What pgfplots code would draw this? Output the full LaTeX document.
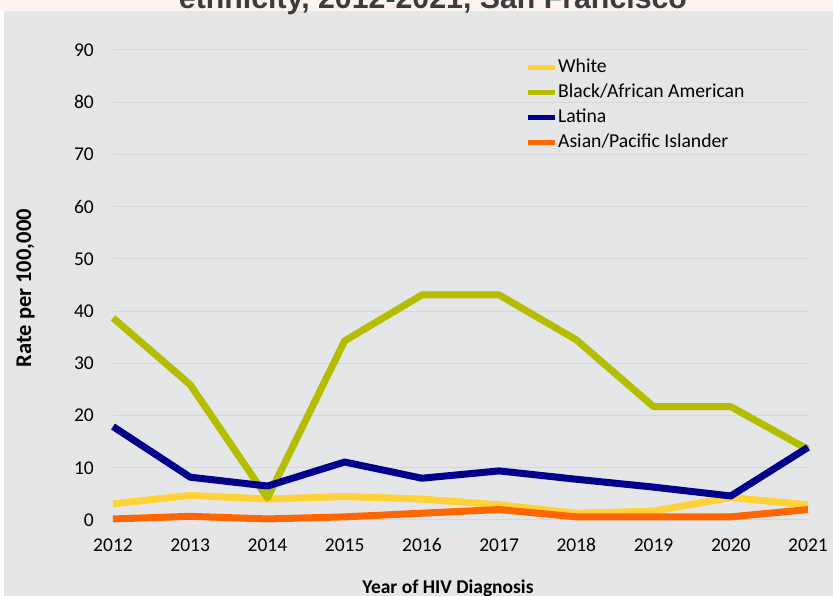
\documentclass[border=0pt]{standalone}
\usepackage{fontspec}
\setmainfont{Carlito}
\newfontfamily\titlefont{Liberation Sans}
\usepackage{pgfplots}
\pgfplotsset{compat=1.18}
\definecolor{bg}{RGB}{229,230,232}
\definecolor{pinkbg}{RGB}{253,244,242}
\definecolor{titlegray}{RGB}{60,60,60}
\definecolor{gridc}{RGB}{214,215,217}
\definecolor{cwhite}{RGB}{255,210,55}
\definecolor{cblack}{RGB}{181,189,0}
\definecolor{clatina}{RGB}{0,0,140}
\definecolor{casian}{RGB}{255,102,0}
\begin{document}
\begin{tikzpicture}[x=1pt,y=1pt]
\useasboundingbox (0,0) rectangle (833,596);
\clip (0,0) rectangle (833,596);
\fill[white] (0,0) rectangle (833,596);
\fill[pinkbg] (0,585) rectangle (833,596);
\fill[bg] (4,0) rectangle (833,585);
\node[anchor=base, inner sep=0pt, font=\titlefont\bfseries\fontsize{30.3}{32}\selectfont, text=titlegray] at (433,587) {ethnicity, 2012-2021, San Francisco};
\begin{axis}[
  at={(113pt,76pt)}, anchor=south west,
  scale only axis, width=695pt, height=470pt,
  xmin=2012, xmax=2021, ymin=0, ymax=90,
  xtick={2012,2013,...,2021}, ytick={0,10,...,90},
  axis line style={draw=none}, tick style={draw=none},
  ymajorgrids, major grid style={gridc, line width=1pt},
  clip=false,
  /pgf/number format/assume math mode=true,
  ticklabel style={font=\fontsize{19.5}{22}\selectfont},
  xticklabel style={/pgf/number format/1000 sep={}, inner sep=0pt, anchor=base, yshift=-32pt},
  yticklabel style={inner sep=0pt, xshift=-19pt},
  xlabel={Year of HIV Diagnosis},
  ylabel={Rate per 100,000},
  xlabel style={font=\bfseries\fontsize{19.5}{22}\selectfont, at={(axis description cs:0.482,-0.156)}, anchor=base, inner sep=0pt},
  ylabel style={font=\bfseries\fontsize{22.5}{24}\selectfont, at={(axis description cs:-0.126,0.493)}, anchor=center, inner sep=0pt},
  legend style={at={(axis description cs:0.593,0.984)}, anchor=north west, draw=none, fill=none,
    font=\fontsize{19.7}{22}\selectfont, inner sep=0pt, outer sep=0pt,
    nodes={inner sep=1pt, text height=14pt, text depth=4pt},
    row sep=5pt, column sep=0pt},
  legend cell align=left,
  legend image code/.code={\draw[#1, line width=5pt] (0pt,0pt) -- (27pt,0pt);},
  every axis plot/.append style={line width=7pt, line join=round},
]
\addplot[cwhite] coordinates {(2012,3.1) (2013,4.7) (2014,4.0) (2015,4.5) (2016,4.0) (2017,2.9) (2018,1.3) (2019,1.7) (2020,4.3) (2021,2.9)};
\addplot[cblack] coordinates {(2012,38.7) (2013,25.9) (2014,4.2) (2015,34.3) (2016,43.1) (2017,43.1) (2018,34.5) (2019,21.7) (2020,21.7) (2021,13.5)};
\addplot[clatina] coordinates {(2012,17.9) (2013,8.2) (2014,6.5) (2015,11.1) (2016,8.0) (2017,9.4) (2018,7.8) (2019,6.3) (2020,4.6) (2021,13.9)};
\addplot[casian] coordinates {(2012,0.2) (2013,0.7) (2014,0.2) (2015,0.6) (2016,1.3) (2017,2.0) (2018,0.6) (2019,0.6) (2020,0.6) (2021,2.0)};
\legend{White, Black/African American, Latina, Asian/Pacific Islander}
\end{axis}
\end{tikzpicture}
\end{document}
